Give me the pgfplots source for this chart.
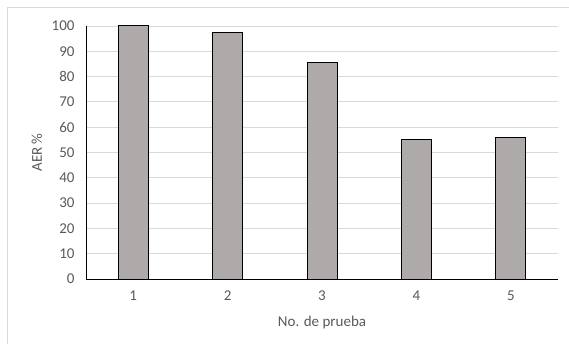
\documentclass[border=0pt]{standalone}
\usepackage{pgfplots}
\pgfplotsset{compat=1.18}
\usepackage{fontspec}
\setmainfont{Carlito}
\definecolor{barfill}{HTML}{AEAAAA}
\definecolor{gridgray}{HTML}{D9D9D9}
\definecolor{labelgray}{HTML}{595959}
\begin{document}
\begin{tikzpicture}[x=1pt,y=1pt]
\useasboundingbox (0,0) rectangle (569,343);
% chart area frame (left and top edges fall inside the page)
\draw[gridgray, line width=0.8pt] (7.5,-5) -- (7.5,335.5) -- (580,335.5);
\begin{axis}[
  at={(86pt,64pt)}, anchor=south west,
  scale only axis, width=472pt, height=253pt,
  xmin=0.5, xmax=5.5, ymin=0, ymax=100,
  ybar, bar width=30pt,
  xtick={1,2,3,4,5},
  ytick={0,10,...,100},
  major tick length=0pt,
  axis x line*=bottom, axis y line*=left,
  axis line style={black, line width=0.8pt},
  ymajorgrids, grid style={gridgray, line width=0.8pt},
  every tick label/.append style={font=\fontsize{15}{17}\selectfont, text=labelgray},
  /pgf/number format/assume math mode=true,
  yticklabel style={xshift=-8pt},
  xticklabel style={yshift=-8pt},
  xlabel={No. de prueba}, ylabel={AER \%},
  label style={font=\fontsize{15}{17}\selectfont, text=labelgray},
  xlabel style={at={(axis description cs:0.5,-0.17)}, anchor=center},
  ylabel style={at={(axis description cs:-0.104,0.5)}, anchor=center, rotate=0},
]
\addplot[fill=barfill, draw=black, line width=1pt] coordinates {
  (1,100) (2,97.5) (3,85.5) (4,55) (5,56)
};
\end{axis}
\end{tikzpicture}
\end{document}
